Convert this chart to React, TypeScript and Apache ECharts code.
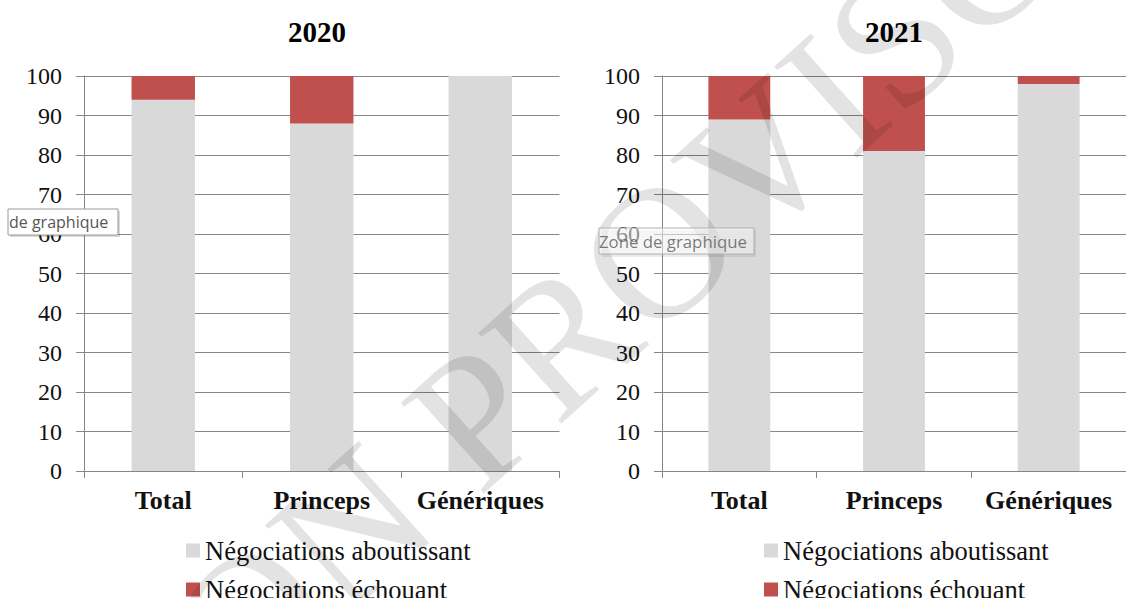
import React, { useEffect, useRef } from "react";
import * as echarts from "echarts";

const categories = ["Total", "Princeps", "Génériques"];
const years = ["2020", "2021"];
const seriesNames = ["Négociations aboutissant", "Négociations échouant"];
const aboutissant2020 = [94, 88, 100];
const echouant2020 = [6, 12, 0];
const aboutissant2021 = [89, 81, 98];
const echouant2021 = [11, 19, 2];
const yTicks = { min: 0, max: 100, interval: 10 };

const SERIF = "'Liberation Serif', 'Times New Roman', serif";
const SANS = "'Open Sans', 'DejaVu Sans', sans-serif";
const GREY = "#d9d9d9";
const RED = "#c0504d";
const LINE = "#868686";

export default function App() {
  const ref = useRef<HTMLDivElement>(null);
  useEffect(() => {
    if (!ref.current) return;
    const chart = echarts.init(ref.current, null, { renderer: "svg" });
    const grids = [
      { left: 84, top: 76, width: 475.5, height: 395 },
      { left: 662, top: 76, width: 475.5, height: 395 },
    ];
    const xAxis = grids.map((_, i) => ({
      type: "category",
      gridIndex: i,
      data: categories,
      axisLine: { show: true, lineStyle: { color: LINE, width: 1 } },
      axisTick: { show: true, length: 7, interval: 0, lineStyle: { color: LINE } },
      axisLabel: {
        interval: 0,
        margin: 16,
        fontFamily: SERIF,
        fontWeight: "bold",
        fontSize: 26,
        color: "#111",
      },
    }));
    const yAxis = grids.map((_, i) => ({
      type: "value",
      gridIndex: i,
      min: yTicks.min,
      max: yTicks.max,
      interval: yTicks.interval,
      axisLine: { show: true, lineStyle: { color: LINE, width: 1 } },
      axisTick: { show: true, length: 8, lineStyle: { color: LINE } },
      splitLine: { show: true, lineStyle: { color: LINE, width: 1 } },
      axisLabel: { margin: 22, fontFamily: SERIF, fontSize: 24, color: "#111" },
    }));
    const dataSets = [
      [aboutissant2020, echouant2020],
      [aboutissant2021, echouant2021],
    ];
    const series: any[] = [];
    dataSets.forEach((pair, i) => {
      pair.forEach((vals, j) => {
        series.push({
          type: "bar",
          name: seriesNames[j],
          xAxisIndex: i,
          yAxisIndex: i,
          stack: "s" + i,
          barWidth: "40%",
          itemStyle: { color: j === 0 ? GREY : RED },
          data: vals,
        });
      });
    });
    const legendBase = {
      orient: "vertical",
      top: 537,
      height: 100,
      width: 400,
      padding: 0,
      itemWidth: 14,
      itemHeight: 14,
      itemGap: 12,
      icon: "rect",
      selectedMode: false,
      data: seriesNames,
      textStyle: { fontFamily: SERIF, fontSize: 26.5, color: "#111" },
    };
    const tipZ = 110;
    chart.setOption({
      animation: false,
      backgroundColor: "#fff",
      grid: grids,
      xAxis,
      yAxis,
      series,
      legend: [
        { ...legendBase, left: 186 },
        { ...legendBase, left: 764 },
      ],
      graphic: [
        {
          type: "text",
          x: 317,
          y: 32,
          style: {
            text: years[0],
            font: `bold 29px ${SERIF}`,
            fill: "#000",
            textAlign: "center",
            textVerticalAlign: "middle",
          },
        },
        {
          type: "text",
          x: 894,
          y: 32,
          style: {
            text: years[1],
            font: `bold 29px ${SERIF}`,
            fill: "#000",
            textAlign: "center",
            textVerticalAlign: "middle",
          },
        },
        {
          type: "text",
          x: 528,
          y: 369,
          rotation: 0.733,
          z: 100,
          silent: true,
          style: {
            text: "VERSION PROVISOIRE",
            font: `188px ${SERIF}`,
            fill: "rgba(0,0,0,0.11)",
            textAlign: "center",
            textVerticalAlign: "middle",
          },
        },
        {
          type: "rect",
          z: tipZ,
          shape: { x: 10, y: 211, width: 110, height: 26 },
          style: { fill: "rgba(0,0,0,0.15)" },
        },
        {
          type: "rect",
          z: tipZ,
          shape: { x: 8, y: 209, width: 110, height: 26 },
          style: { fill: "#fff", stroke: "#9a9a9a", lineWidth: 1 },
        },
        {
          type: "text",
          z: tipZ,
          x: 9,
          y: 222,
          style: {
            text: "de graphique",
            font: `16px ${SANS}`,
            fill: "#555",
            textVerticalAlign: "middle",
          },
        },
        {
          type: "rect",
          z: tipZ,
          shape: { x: 602, y: 230, width: 154, height: 27 },
          style: { fill: "rgba(0,0,0,0.08)" },
        },
        {
          type: "rect",
          z: tipZ,
          shape: { x: 599, y: 228, width: 155, height: 26 },
          style: { fill: "rgba(255,255,255,0.55)", stroke: "#b0b0b0", lineWidth: 1 },
        },
        {
          type: "text",
          z: tipZ,
          x: 599,
          y: 241,
          style: {
            text: "Zone de graphique",
            font: `16.8px ${SANS}`,
            fill: "rgba(80,80,80,0.75)",
            textVerticalAlign: "middle",
          },
        },
      ],
    } as any);
    return () => chart.dispose();
  }, []);
  return (
    <div
      ref={ref}
      style={{ position: "fixed", left: 0, top: 0, width: 1126, height: 598 }}
    />
  );
}
